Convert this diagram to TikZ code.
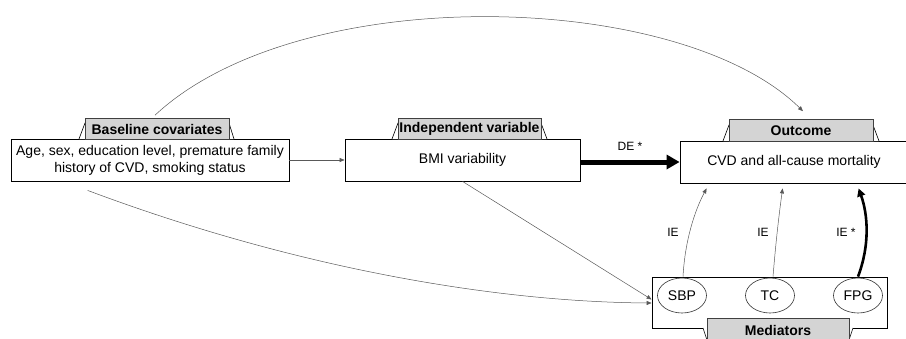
\documentclass[tikz,border=0pt]{standalone}
\usepackage{fontspec}
\setmainfont{Liberation Sans}
\usetikzlibrary{arrows.meta,calc,shapes.geometric}
\begin{document}
\begin{tikzpicture}[x=1pt,y=-1pt,
  box/.style={draw=black, line width=0.8pt, fill=white, minimum width=#1,
    minimum height=42pt, inner sep=0pt, align=center,
    font=\fontsize{14}{17}\selectfont},
  tab/.style={draw=black!75, line width=0.6pt, fill=black!17, minimum width=#1,
    minimum height=21pt, inner sep=0pt, font=\bfseries\fontsize{14}{16}\selectfont},
  flap/.style={draw=black, line width=0.6pt, fill=white},
  medvar/.style={ellipse, draw=black!80, line width=0.6pt, minimum width=49pt,
    minimum height=35pt, inner sep=0pt, font=\fontsize{14}{16}\selectfont},
  link/.style={draw=black!65, line width=0.5pt, -{Triangle[length=5pt,width=4pt]}},
  heavy/.style={draw=black, line width=2.6pt, -{Triangle[length=8pt,width=8pt]}},
  lbl/.style={font=\fontsize{12}{14}\selectfont, inner sep=0pt}
]
\useasboundingbox (0,0) rectangle (906,338);

% main boxes
\node[box=278pt] (base) at (150,160)
  {Age, sex, education level, premature family\\history of CVD, smoking status};
\node[box=235pt] (bmi) at (462.5,160) {BMI variability};
\node[box=228pt] (out) at (794,162) {CVD and all-cause mortality};
\node[box=235pt, minimum height=51pt] (med) at (769.5,302.5) {};

% mediators
\node[medvar] (sbp) at (682,295.5) {SBP};
\node[medvar] (tc)  at (770,295.5) {TC};
\node[medvar] (fpg) at (858,295.5) {FPG};

% header tabs: white flap behind a grey label
\path (157,129) coordinate (bt0) (469.5,129) coordinate (it0)
      (801,130.5) coordinate (ot0) (778,330) coordinate (mt0);
\draw[flap] (79,139) -- (85,123) -- (229,123) -- (234,139);
\node[tab=144pt] (btab) at (bt0) {Baseline covariates};
\draw[flap] (392,139) -- (398,123) -- (541,123) -- (547,139);
\node[tab=143pt] (itab) at (it0) {Independent variable};
\draw[flap] (723,141) -- (729,125) -- (873,125) -- (879,141);
\node[tab=144pt, minimum height=22pt] (otab) at (ot0) {Outcome};
\draw[flap] (703,328) -- (707,340) -- (849,340) -- (853,328);
\node[tab=142pt, minimum height=24pt] (mtab) at (mt0) {Mediators};

% free ends of the curved connectors
\coordinate (arcA) at ($(btab.north)+(-2,-3)$);
\coordinate (arcB) at ($(otab.north)+(2,-8)$);
\coordinate (curA) at ($(base.south west)+(77,9)$);
\coordinate (medA) at ($(med.west)+(0,-3)$);
\coordinate (medB) at ($(med.west)+(0,0.5)$);
\coordinate (bmiS) at ($(bmi.south)+(0,0)$);
\coordinate (o1) at ($(out.south west)+(27,5)$);
\coordinate (o2) at ($(out.south west)+(103,5)$);
\coordinate (o3) at ($(out.south west)+(179,5)$);
\coordinate (s1) at ($(sbp |- med.north)+(1,0)$);
\coordinate (s2) at ($(tc |- med.north)+(3,0)$);
\coordinate (s3) at (fpg |- med.north);

% connectors
\draw[link] (base.east) -- (bmi.west);
\draw[draw=black, line width=5pt, -{Triangle[length=13pt,width=14pt]}]
  (bmi.east |- out.west) -- (out.west)
  node[lbl, midway, above=9pt] {DE *};
\draw[link] (arcA) .. controls (300,-20) and (680,-10) .. (arcB);
\draw[link] (curA) .. controls (300,270) and (500,302) .. (medB);
\draw[link] (bmiS) -- (medA);
\draw[link] (s1) .. controls (685,240) and (695,210) .. (o1);
\draw[link] (s2) .. controls (776,240) and (779,215) .. (o2);
\draw[heavy] (s3) .. controls (870,245) and (868,215) .. (o3);

\node[lbl] (ie1) at (673,232) {IE};
\node[lbl] (ie2) at (763,232) {IE};
\node[lbl] (ie3) at (846,232) {IE *};
\end{tikzpicture}
\end{document}
